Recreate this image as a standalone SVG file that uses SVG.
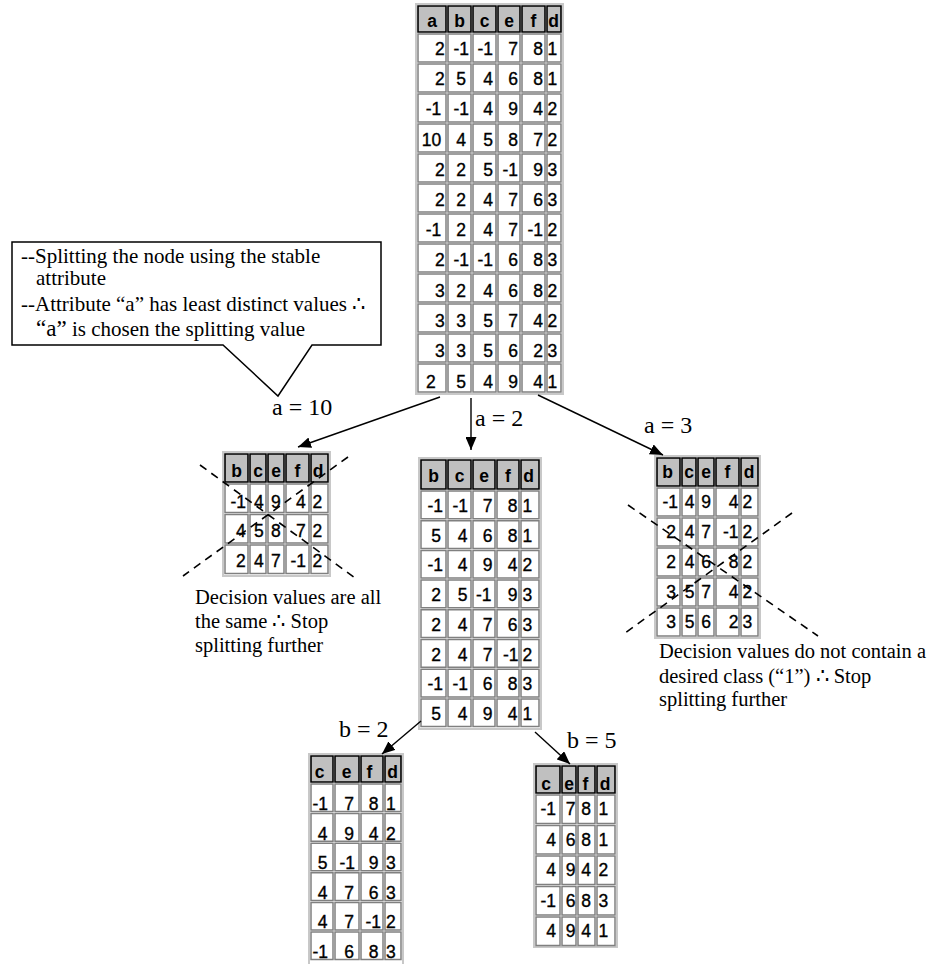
<svg xmlns="http://www.w3.org/2000/svg" width="932" height="964" viewBox="0 0 932 964">
<defs>
<style>
.tb{fill:#fff;stroke:#c8c8c8;stroke-width:2}
.c{fill:#fff;stroke:#808080;stroke-width:1.5}
.h{fill:#c0c0c0;stroke:#000;stroke-width:1.6}
.n{font-family:"Liberation Sans",Arial,sans-serif;font-size:17.5px;fill:#000;stroke:#000;stroke-width:0.35;text-anchor:end}
.l{text-anchor:start}
.hd{font-family:"Liberation Sans",Arial,sans-serif;font-size:17.5px;font-weight:bold;text-anchor:middle;fill:#000}
.s{font-family:"Liberation Serif","Times New Roman",serif;font-size:21px;fill:#000}
.dt{font-family:"Liberation Serif","Times New Roman",serif;font-size:20.5px;fill:#000}
.lb{font-family:"Liberation Serif","Times New Roman",serif;font-size:24px;fill:#000}
.ln{stroke:#000;stroke-width:1.4;fill:none}
.ds{stroke:#000;stroke-width:1.6;fill:none;stroke-dasharray:8 6}
.co{fill:#fff;stroke:#000;stroke-width:1.5}
</style>
<marker id="ah" viewBox="0 0 13 11" refX="13" refY="5.5" markerWidth="13" markerHeight="11" markerUnits="userSpaceOnUse" orient="auto"><path d="M0,0 L13,5.5 L0,11 z" fill="#000"/></marker>
</defs>

<!-- Top table -->
<g id="root-table">
<rect class="tb" x="416" y="4" width="147" height="390"/>
<path class="h" d="M418,6h28v26h-28z M448,6h23v26h-23z M473,6h23v26h-23z M498,6h22v26h-22z M522,6h23v26h-23z M547,6h14v26h-14z"/>
<path id="t0row" class="c" d="M418,34h28v28h-28z M448,34h23v28h-23z M473,34h23v28h-23z M498,34h22v28h-22z M522,34h23v28h-23z M547,34h14v28h-14z"/>
<use href="#t0row" y="30"/><use href="#t0row" y="60"/><use href="#t0row" y="90"/><use href="#t0row" y="120"/><use href="#t0row" y="150"/><use href="#t0row" y="180"/><use href="#t0row" y="210"/><use href="#t0row" y="240"/><use href="#t0row" y="270"/><use href="#t0row" y="300"/><use href="#t0row" y="330"/>
<text class="hd" y="27"><tspan x="432">a</tspan><tspan x="459.5">b</tspan><tspan x="484.5">c</tspan><tspan x="509">e</tspan><tspan x="533.5">f</tspan><tspan x="553.5">d</tspan></text>
<text class="n" y="55"><tspan x="444.7">2</tspan><tspan x="469">-1</tspan><tspan x="493">-1</tspan><tspan x="518">7</tspan><tspan x="543">8</tspan></text>
<text class="n" y="85"><tspan x="444.7">2</tspan><tspan x="466">5</tspan><tspan x="493">4</tspan><tspan x="518">6</tspan><tspan x="543">8</tspan></text>
<text class="n" y="115"><tspan x="441.3">-1</tspan><tspan x="469">-1</tspan><tspan x="493">4</tspan><tspan x="518">9</tspan><tspan x="543">4</tspan></text>
<text class="n" y="146"><tspan x="441.3">10</tspan><tspan x="466">4</tspan><tspan x="493">5</tspan><tspan x="518">8</tspan><tspan x="543">7</tspan></text>
<text class="n" y="176"><tspan x="444.7">2</tspan><tspan x="466">2</tspan><tspan x="493">5</tspan><tspan x="518">-1</tspan><tspan x="543">9</tspan></text>
<text class="n" y="206"><tspan x="444.7">2</tspan><tspan x="466">2</tspan><tspan x="493">4</tspan><tspan x="518">7</tspan><tspan x="543">6</tspan></text>
<text class="n" y="236"><tspan x="441.3">-1</tspan><tspan x="466">2</tspan><tspan x="493">4</tspan><tspan x="518">7</tspan><tspan x="543">-1</tspan></text>
<text class="n" y="266"><tspan x="444.7">2</tspan><tspan x="469">-1</tspan><tspan x="493">-1</tspan><tspan x="518">6</tspan><tspan x="543">8</tspan></text>
<text class="n" y="297"><tspan x="444.7">3</tspan><tspan x="466">2</tspan><tspan x="493">4</tspan><tspan x="518">6</tspan><tspan x="543">8</tspan></text>
<text class="n" y="327"><tspan x="444.7">3</tspan><tspan x="466">3</tspan><tspan x="493">5</tspan><tspan x="518">7</tspan><tspan x="543">4</tspan></text>
<text class="n" y="357"><tspan x="444.7">3</tspan><tspan x="466">3</tspan><tspan x="493">5</tspan><tspan x="518">6</tspan><tspan x="543">2</tspan></text>
<text class="n" y="388"><tspan x="466">5</tspan><tspan x="493">4</tspan><tspan x="518">9</tspan><tspan x="543">4</tspan></text>
<text class="n l" x="426" y="388">2</text>
<text class="n l"><tspan x="547.5" y="55">1</tspan><tspan x="547.5" y="85">1</tspan><tspan x="547.5" y="115">2</tspan><tspan x="547.5" y="146">2</tspan><tspan x="547.5" y="176">3</tspan><tspan x="547.5" y="206">3</tspan><tspan x="547.5" y="236">2</tspan><tspan x="547.5" y="266">3</tspan><tspan x="547.5" y="297">2</tspan><tspan x="547.5" y="327">2</tspan><tspan x="547.5" y="357">3</tspan><tspan x="547.5" y="388">1</tspan></text>
</g>

<!-- Callout -->
<g id="callout">
<path class="co" d="M12,242 H381 V345 H312 L278,396 L223,345 H12 Z"/>
<text class="s" x="21" y="263">--Splitting the node using the stable</text>
<text class="s" x="36" y="285">attribute</text>
<text class="s" x="21" y="311">--Attribute “a” has least distinct values ∴</text>
<text class="s" x="36" y="336"><tspan font-size="23">“a”</tspan> is chosen the splitting value</text>
</g>

<!-- Left table a=10 -->
<g id="table-a10">
<rect class="tb" x="223" y="452" width="107" height="124"/>
<path class="h" d="M225,454h23v28h-23z M250,454h16v28h-16z M268,454h16v28h-16z M286,454h23v28h-23z M311,454h17v28h-17z"/>
<path id="t1row" class="c" d="M225,484h23v28.5h-23z M250,484h16v28.5h-16z M268,484h16v28.5h-16z M286,484h23v28.5h-23z M311,484h17v28.5h-17z"/>
<use href="#t1row" y="30.5"/><use href="#t1row" y="61"/>
<text class="hd" y="477"><tspan x="236.5">b</tspan><tspan x="258">c</tspan><tspan x="276">e</tspan><tspan x="297.5">f</tspan><tspan x="318">d</tspan></text>
<text class="n" y="508"><tspan x="246">-1</tspan><tspan x="263.7">4</tspan><tspan x="280.7">9</tspan><tspan x="305.7">4</tspan></text>
<text class="n" y="537"><tspan x="245.7">4</tspan><tspan x="263.7">5</tspan><tspan x="280.7">8</tspan><tspan x="305.7">7</tspan></text>
<text class="n" y="567"><tspan x="245.7">2</tspan><tspan x="263.7">4</tspan><tspan x="280.7">7</tspan><tspan x="306">-1</tspan></text>
<text class="n l"><tspan x="312.5" y="508">2</tspan><tspan x="312.5" y="537">2</tspan><tspan x="312.5" y="567">2</tspan></text>
<path class="ds" d="M200,465 L355,578 M348,457 L183,576"/>
</g>
<g id="note-a10">
<text class="dt" x="195" y="604">Decision values are all</text>
<text class="dt" x="195" y="628">the same ∴ Stop</text>
<text class="dt" x="195" y="652">splitting further</text>
</g>

<!-- Middle table a=2 -->
<g id="table-a2">
<rect class="tb" x="419" y="458" width="122" height="271"/>
<path class="h" d="M421,460h25v29h-25z M448,460h23v29h-23z M473,460h22v29h-22z M497,460h22v29h-22z M521,460h18v29h-18z"/>
<path id="t2row" class="c" d="M421,491h25v27.7h-25z M448,491h23v27.7h-23z M473,491h22v27.7h-22z M497,491h22v27.7h-22z M521,491h18v27.7h-18z"/>
<use href="#t2row" y="29.7"/><use href="#t2row" y="59.4"/><use href="#t2row" y="89.1"/><use href="#t2row" y="118.8"/><use href="#t2row" y="148.5"/><use href="#t2row" y="178.2"/><use href="#t2row" y="207.9"/>
<text class="hd" y="482"><tspan x="433.5">b</tspan><tspan x="459.5">c</tspan><tspan x="484">e</tspan><tspan x="508">f</tspan><tspan x="528.5">d</tspan></text>
<text class="n" y="512"><tspan x="443">-1</tspan><tspan x="468">-1</tspan><tspan x="492.5">7</tspan><tspan x="517.5">8</tspan></text>
<text class="n" y="541.7"><tspan x="441">5</tspan><tspan x="467.5">4</tspan><tspan x="492.5">6</tspan><tspan x="517.5">8</tspan></text>
<text class="n" y="571.4"><tspan x="443">-1</tspan><tspan x="467.5">4</tspan><tspan x="492.5">9</tspan><tspan x="517.5">4</tspan></text>
<text class="n" y="601.1"><tspan x="441">2</tspan><tspan x="467.5">5</tspan><tspan x="491.5">-1</tspan><tspan x="517.5">9</tspan></text>
<text class="n" y="630.8"><tspan x="441">2</tspan><tspan x="467.5">4</tspan><tspan x="492.5">7</tspan><tspan x="517.5">6</tspan></text>
<text class="n" y="660.5"><tspan x="441">2</tspan><tspan x="467.5">4</tspan><tspan x="492.5">7</tspan><tspan x="518.5">-1</tspan></text>
<text class="n" y="690.2"><tspan x="443">-1</tspan><tspan x="468">-1</tspan><tspan x="492.5">6</tspan><tspan x="517.5">8</tspan></text>
<text class="n" y="720"><tspan x="441">5</tspan><tspan x="467.5">4</tspan><tspan x="492.5">9</tspan><tspan x="517.5">4</tspan></text>
<text class="n l"><tspan x="522.5" y="512">1</tspan><tspan x="522.5" y="541.7">1</tspan><tspan x="522.5" y="571.4">2</tspan><tspan x="522.5" y="601.1">3</tspan><tspan x="522.5" y="630.8">3</tspan><tspan x="522.5" y="660.5">2</tspan><tspan x="522.5" y="690.2">3</tspan><tspan x="522.5" y="720">1</tspan></text>
</g>

<!-- Right table a=3 -->
<g id="table-a3">
<rect class="tb" x="655" y="456" width="105" height="182"/>
<path class="h" d="M657,458h23v28h-23z M682,458h14v28h-14z M698,458h16v28h-16z M716,458h23v28h-23z M741,458h17v28h-17z"/>
<path id="t3row" class="c" d="M657,488h23v28h-23z M682,488h14v28h-14z M698,488h16v28h-16z M716,488h23v28h-23z M741,488h17v28h-17z"/>
<use href="#t3row" y="30"/><use href="#t3row" y="60"/><use href="#t3row" y="90"/><use href="#t3row" y="120"/>
<text class="hd" y="478"><tspan x="667.5">b</tspan><tspan x="689">c</tspan><tspan x="706">e</tspan><tspan x="727.5">f</tspan><tspan x="749">d</tspan></text>
<text class="n" y="508"><tspan x="678">-1</tspan><tspan x="694.5">4</tspan><tspan x="711">9</tspan><tspan x="738.5">4</tspan></text>
<text class="n" y="538"><tspan x="676">2</tspan><tspan x="694.5">4</tspan><tspan x="711">7</tspan><tspan x="738.5">-1</tspan></text>
<text class="n" y="568"><tspan x="676">2</tspan><tspan x="694.5">4</tspan><tspan x="711">6</tspan><tspan x="738.5">8</tspan></text>
<text class="n" y="598"><tspan x="676">3</tspan><tspan x="694.5">5</tspan><tspan x="711">7</tspan><tspan x="738.5">4</tspan></text>
<text class="n" y="628"><tspan x="676">3</tspan><tspan x="694.5">5</tspan><tspan x="711">6</tspan><tspan x="738.5">2</tspan></text>
<text class="n l"><tspan x="742.5" y="508">2</tspan><tspan x="742.5" y="538">2</tspan><tspan x="742.5" y="568">2</tspan><tspan x="742.5" y="598">2</tspan><tspan x="742.5" y="628">3</tspan></text>
<path class="ds" d="M628,505 L818,636 M792,513 L625,633"/>
</g>
<g id="note-a3">
<text class="dt" x="659" y="658">Decision values do not contain a</text>
<text class="dt" x="659" y="683">desired class (“1”) ∴ Stop</text>
<text class="dt" x="659" y="706">splitting further</text>
</g>

<!-- Bottom-left table b=2 -->
<g id="table-b2">
<rect class="tb" x="309" y="754" width="94" height="212"/>
<path class="h" d="M311,756h22v26h-22z M335,756h24v26h-24z M361,756h22v26h-22z M385,756h16v26h-16z"/>
<path id="t4row" class="c" d="M311,784h22v27.6h-22z M335,784h24v27.6h-24z M361,784h22v27.6h-22z M385,784h16v27.6h-16z"/>
<use href="#t4row" y="29.6"/><use href="#t4row" y="59.2"/><use href="#t4row" y="88.8"/><use href="#t4row" y="118.4"/><use href="#t4row" y="148"/>
<text class="hd" y="778"><tspan x="319.5">c</tspan><tspan x="346.5">e</tspan><tspan x="369.5">f</tspan><tspan x="392.5">d</tspan></text>
<text class="n" y="810"><tspan x="328">-1</tspan><tspan x="354">7</tspan><tspan x="378.5">8</tspan></text>
<text class="n" y="839.6"><tspan x="327.5">4</tspan><tspan x="354">9</tspan><tspan x="378.5">4</tspan></text>
<text class="n" y="869.2"><tspan x="327.5">5</tspan><tspan x="355">-1</tspan><tspan x="378.5">9</tspan></text>
<text class="n" y="898.8"><tspan x="327.5">4</tspan><tspan x="354">7</tspan><tspan x="378.5">6</tspan></text>
<text class="n" y="928.4"><tspan x="327.5">4</tspan><tspan x="354">7</tspan><tspan x="381">-1</tspan></text>
<text class="n" y="958"><tspan x="328">-1</tspan><tspan x="354">6</tspan><tspan x="378.5">8</tspan></text>
<text class="n l"><tspan x="386" y="810">1</tspan><tspan x="386" y="839.6">2</tspan><tspan x="386" y="869.2">3</tspan><tspan x="386" y="898.8">3</tspan><tspan x="386" y="928.4">2</tspan><tspan x="386" y="958">3</tspan></text>
</g>

<!-- Bottom-right table b=5 -->
<g id="table-b5">
<rect class="tb" x="534" y="764" width="83" height="183"/>
<path class="h" d="M536,766h24v27h-24z M562,766h14v27h-14z M578,766h17v27h-17z M597,766h18v27h-18z"/>
<path id="t5row" class="c" d="M536,795h24v28.5h-24z M562,795h14v28.5h-14z M578,795h17v28.5h-17z M597,795h18v28.5h-18z"/>
<use href="#t5row" y="30.5"/><use href="#t5row" y="61"/><use href="#t5row" y="91.5"/><use href="#t5row" y="122"/>
<text class="hd" y="790"><tspan x="546">c</tspan><tspan x="569">e</tspan><tspan x="585.5">f</tspan><tspan x="605">d</tspan></text>
<text class="n" y="815"><tspan x="556">-1</tspan><tspan x="575.5">7</tspan><tspan x="591">8</tspan></text>
<text class="n" y="845.5"><tspan x="556">4</tspan><tspan x="575.5">6</tspan><tspan x="591">8</tspan></text>
<text class="n" y="876"><tspan x="556">4</tspan><tspan x="575.5">9</tspan><tspan x="591">4</tspan></text>
<text class="n" y="906.5"><tspan x="556">-1</tspan><tspan x="575.5">6</tspan><tspan x="591">8</tspan></text>
<text class="n" y="937"><tspan x="556">4</tspan><tspan x="575.5">9</tspan><tspan x="591">4</tspan></text>
<text class="n l"><tspan x="598.5" y="815">1</tspan><tspan x="598.5" y="845.5">1</tspan><tspan x="598.5" y="876">2</tspan><tspan x="598.5" y="906.5">3</tspan><tspan x="598.5" y="937">1</tspan></text>
</g>

<!-- Connectors -->
<g id="connectors">
<path class="ln" marker-end="url(#ah)" d="M440,397 L298,447"/>
<path class="ln" marker-end="url(#ah)" d="M471,398 L471,450"/>
<path class="ln" marker-end="url(#ah)" d="M538,395 L663,455"/>
<path class="ln" marker-end="url(#ah)" d="M421,721 L382,754"/>
<path class="ln" marker-end="url(#ah)" d="M535,732 L570,764"/>
<text class="lb" x="272" y="415">a = 10</text>
<text class="lb" x="475" y="426">a = 2</text>
<text class="lb" x="644" y="433">a = 3</text>
<text class="lb" x="339" y="737">b = 2</text>
<text class="lb" x="567" y="748">b = 5</text>
</g>
</svg>
